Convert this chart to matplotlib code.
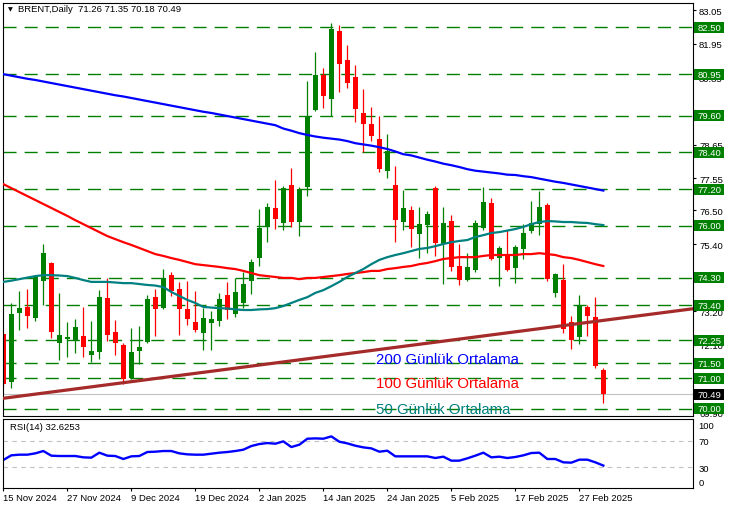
import matplotlib
matplotlib.use("Agg")
import matplotlib.pyplot as plt
from matplotlib.patches import Rectangle
import numpy as np
import pandas as pd

plt.rcParams['font.family'] = ['Liberation Sans', 'DejaVu Sans']

# ---------------- data ----------------
dates = pd.bdate_range("2024-11-15", "2025-03-04")
dates = dates[~dates.isin(pd.to_datetime(["2024-12-25", "2025-01-01"]))]

opens = [72.45, 70.88, 73.14, 73.34, 72.98, 74.19, 74.78, 72.16, 72.29, 72.26,
         72.39, 71.77, 71.87, 73.63, 72.52, 72.09, 71.01, 71.90, 72.19, 73.67,
         73.30, 74.38, 73.93, 73.27, 72.85, 72.49, 72.81, 72.88, 73.73, 73.11,
         73.47, 74.19, 74.94, 75.96, 76.58, 76.09, 77.33, 76.12, 77.26, 79.78,
         80.93, 80.14, 82.37, 81.42, 80.86, 79.69, 79.33, 78.84, 77.79, 77.33,
         76.12, 76.51, 75.73, 76.02, 77.23, 75.40, 76.15, 74.68, 74.22, 74.55,
         75.92, 76.74, 74.94, 75.04, 74.61, 75.24, 75.82, 76.06, 76.68, 73.80,
         74.22, 72.85, 72.36, 73.34, 73.01, 71.26]
highs = [72.50, 73.47, 73.86, 73.93, 74.38, 75.40, 74.81, 73.80, 72.85, 72.94,
         73.34, 72.88, 73.89, 74.29, 72.91, 72.15, 72.65, 72.72, 73.73, 73.93,
         74.58, 74.48, 74.16, 74.19, 73.86, 73.30, 73.21, 73.80, 74.16, 74.29,
         74.48, 74.91, 76.54, 76.74, 77.49, 77.30, 77.89, 77.26, 80.73, 81.68,
         81.16, 82.63, 82.57, 81.91, 81.26, 80.47, 79.88, 79.59, 79.00, 77.95,
         77.17, 76.64, 76.61, 76.48, 77.30, 76.61, 76.35, 75.40, 75.10, 76.19,
         77.26, 76.90, 75.33, 75.86, 75.37, 76.06, 76.81, 77.13, 76.74, 74.45,
         74.74, 73.05, 73.73, 73.40, 73.67, 71.35]
lows = [70.75, 70.69, 72.59, 72.65, 72.88, 73.40, 72.32, 71.60, 71.70, 71.83,
        71.70, 71.54, 71.64, 72.23, 71.77, 70.82, 70.98, 71.47, 72.16, 72.39,
        73.27, 73.70, 72.42, 72.75, 72.52, 71.93, 71.93, 72.72, 72.94, 73.01,
        73.30, 73.76, 74.68, 75.46, 75.89, 75.86, 75.96, 75.66, 76.97, 79.75,
        79.85, 79.59, 80.37, 80.50, 79.39, 78.41, 78.77, 77.76, 77.56, 75.46,
        75.86, 75.30, 74.94, 75.10, 75.01, 74.09, 74.52, 74.06, 74.19, 74.48,
        75.86, 74.88, 74.03, 74.52, 74.12, 74.91, 75.76, 75.69, 74.19, 73.67,
        72.49, 71.95, 72.13, 72.40, 71.35, 70.18]
closes = [70.82, 73.11, 73.30, 73.04, 74.32, 75.10, 72.52, 72.42, 72.36, 72.68,
          72.03, 71.90, 73.67, 72.42, 72.16, 70.98, 71.87, 72.03, 73.60, 73.27,
          74.29, 73.86, 73.27, 72.94, 72.59, 72.98, 72.94, 73.60, 73.24, 73.83,
          74.09, 74.81, 75.92, 76.61, 76.22, 77.23, 76.12, 77.20, 79.59, 80.93,
          80.24, 82.43, 81.29, 80.67, 79.82, 79.33, 78.93, 77.85, 78.44, 76.19,
          76.58, 75.89, 76.06, 76.38, 75.43, 76.09, 74.65, 74.22, 74.65, 76.09,
          76.77, 74.91, 75.27, 74.55, 75.30, 75.76, 76.09, 76.61, 74.25, 74.42,
          72.62, 72.25, 73.40, 73.04, 71.41, 70.49]

ma200 = [80.96, 80.91, 80.86, 80.81, 80.77, 80.72, 80.67, 80.62, 80.57, 80.52,
         80.47, 80.42, 80.37, 80.32, 80.27, 80.23, 80.18, 80.13, 80.08, 80.03,
         79.98, 79.93, 79.88, 79.83, 79.78, 79.73, 79.69, 79.64, 79.59, 79.54,
         79.49, 79.44, 79.39, 79.34, 79.29, 79.18, 79.11, 79.03, 78.97, 78.92,
         78.88, 78.85, 78.82, 78.77, 78.70, 78.66, 78.62, 78.57, 78.51, 78.43,
         78.34, 78.30, 78.23, 78.16, 78.10, 78.03, 77.98, 77.92, 77.85, 77.80,
         77.77, 77.74, 77.71, 77.67, 77.66, 77.62, 77.59, 77.54, 77.49, 77.44,
         77.40, 77.35, 77.30, 77.25, 77.20, 77.15]
ma100 = [77.36, 77.23, 77.10, 76.97, 76.84, 76.71, 76.58, 76.45, 76.32, 76.18,
         76.05, 75.92, 75.79, 75.66, 75.56, 75.46, 75.37, 75.27, 75.17, 75.07,
         75.01, 74.94, 74.88, 74.81, 74.74, 74.71, 74.68, 74.65, 74.61, 74.58,
         74.52, 74.45, 74.38, 74.35, 74.32, 74.29, 74.29, 74.25, 74.29, 74.29,
         74.32, 74.35, 74.38, 74.42, 74.45, 74.48, 74.52, 74.52, 74.58, 74.61,
         74.65, 74.68, 74.74, 74.78, 74.84, 74.91, 74.94, 74.97, 74.97, 74.97,
         75.01, 75.04, 75.04, 75.04, 75.04, 75.07, 75.07, 75.10, 75.07, 75.04,
         74.97, 74.94, 74.88, 74.81, 74.74, 74.68]
ma50 = [74.16, 74.20, 74.25, 74.30, 74.35, 74.38, 74.38, 74.37, 74.35, 74.29,
        74.22, 74.16, 74.16, 74.16, 74.14, 74.12, 74.12, 74.09, 74.06, 74.04,
        73.99, 73.83, 73.70, 73.57, 73.47, 73.34, 73.32, 73.30, 73.29, 73.26,
        73.24, 73.24, 73.26, 73.27, 73.30, 73.37, 73.47, 73.57, 73.66, 73.80,
        73.89, 74.02, 74.16, 74.32, 74.45, 74.58, 74.74, 74.88, 74.97, 75.04,
        75.10, 75.17, 75.24, 75.27, 75.33, 75.40, 75.46, 75.50, 75.53, 75.63,
        75.69, 75.76, 75.79, 75.84, 75.89, 75.96, 76.05, 76.12, 76.15, 76.14,
        76.12, 76.12, 76.10, 76.09, 76.05, 76.02]
rsi = [41, 48, 49, 49, 51, 54.5, 47.5, 47, 47, 47,
       45, 44.5, 52, 47.5, 47, 42.5, 46.5, 47, 53, 53.5,
       54.5, 54.5, 51, 49.5, 49, 49, 50.5, 52, 53, 54.5,
       56.5, 62, 65, 66.5, 65.5, 69, 60.5, 64, 73, 73.5,
       73, 76.5, 68.5, 66, 62.5, 60, 58.5, 53.5, 55, 46.5,
       46.5, 46.5, 46.5, 46.5, 44, 46, 40, 40, 43.5, 47.5,
       52, 45, 46, 44, 45.5, 48, 51.5, 52, 42.5, 42.5,
       37.5, 37, 41.5, 41.5, 37.5, 32.6253]

levels = [82.50, 80.95, 79.60, 78.40, 77.20, 76.00, 74.30, 73.40, 72.25, 71.50, 71.00, 70.00]
price_ticks = [83.05, 81.95, 80.85, 79.75, 78.65, 77.55, 76.50, 75.40, 74.30, 73.20, 72.10, 71.00, 69.90]
trend_anchor_bars = [0, 75]
trend_anchor_prices = [70.35, 72.90]
xtick_dates = ["2024-11-15", "2024-11-27", "2024-12-09", "2024-12-19", "2025-01-02",
               "2025-01-14", "2025-01-24", "2025-02-05", "2025-02-17", "2025-02-27"]
xtick_labels = ["15 Nov 2024", "27 Nov 2024", "9 Dec 2024", "19 Dec 2024", "2 Jan 2025",
                "14 Jan 2025", "24 Jan 2025", "5 Feb 2025", "17 Feb 2025", "27 Feb 2025"]
legend_texts = ["200 Günlük Ortalama", "100 Günlük Ortalama", "50 Günlük Ortalama"]
legend_colors = ["#0000ff", "#ff0000", "#008080"]
legend_bar = 46.6
legend_prices = [71.50, 70.71, 69.87]

# ---------------- layout ----------------
W, H = 732, 510
fig = plt.figure(figsize=(W / 100, H / 100), dpi=100)
fig.patch.set_facecolor("white")
AXW = 690
ax = fig.add_axes([3 / W, 1 - 417 / H, AXW / W, 413 / H])
ax2 = fig.add_axes([3 / W, 1 - 489 / H, AXW / W, 69.5 / H])

x = np.arange(len(opens))
for a in (ax, ax2):
    a.set_xlim(-0.04, 86.21)
    for s in a.spines.values():
        s.set_color("black")
        s.set_linewidth(0.8)
ax.set_ylim(69.77, 83.29)
ax2.set_ylim(-1.1, 103.4)
px_per_price = 413 / (83.29 - 69.77)

GREEN = "#008000"
RED = "#ff0000"
for lv in levels:
    ax.axhline(lv, color=GREEN, lw=1.0, dashes=(9.4, 5.8), zorder=1)
ax.axhline(closes[-1], color="#c0c0c0", lw=0.8, zorder=1)

# candles
o = np.array(opens); c = np.array(closes); h = np.array(highs); l = np.array(lows)
up = c >= o
cols = np.where(up, GREEN, RED)
ax.vlines(x, l, h, colors=cols, lw=0.9, zorder=2)
body_b = np.minimum(o, c)
body_h = np.maximum(np.abs(c - o), 0.03)
ax.bar(x, body_h, bottom=body_b, width=0.64, color=cols, linewidth=0, zorder=2)

# moving averages
ax.plot(x, ma200, color="#0000ff", lw=1.6, zorder=3)
ax.plot(x, ma100, color="#ff0000", lw=1.6, zorder=3)
ax.plot(x, ma50, color="#008080", lw=1.6, zorder=3)

# trend line
ax.axline((trend_anchor_bars[0], trend_anchor_prices[0]),
          (trend_anchor_bars[1], trend_anchor_prices[1]),
          color="#a52a2a", lw=2.3, zorder=4)

for t, col, pr in zip(legend_texts, legend_colors, legend_prices):
    ax.text(legend_bar, pr, t, color=col, fontsize=10.8, ha="left", va="baseline", zorder=6)

# y ticks main
ax.yaxis.tick_right()
ax.set_yticks(price_ticks)
ax.set_yticklabels([f"{v:.2f}" for v in price_ticks])
ax.tick_params(axis="y", length=2.4, width=0.8, pad=2, labelsize=6.8, colors="black")
ax.set_xticks([])

yt = ax.get_yaxis_transform()
box_h = 11 / px_per_price


def price_box(val, fc):
    ax.add_patch(Rectangle((1 + 1 / AXW, val - box_h / 2), 30 / AXW, box_h, transform=yt,
                           fc=fc, ec="none", zorder=9, clip_on=False))
    ax.text(1 + 16 / AXW, val, f"{val:.2f}", transform=yt, ha="center", va="center",
            color="white", fontsize=6.8, zorder=10, clip_on=False)


for lv in levels:
    price_box(lv, GREEN)
price_box(closes[-1], "black")

# RSI
ax2.axhline(70, color="#c0c0c0", lw=0.8, dashes=(4, 4))
ax2.axhline(30, color="#c0c0c0", lw=0.8, dashes=(4, 4))
ax2.plot(x, rsi, color="#0000ff", lw=1.7)
ax2.yaxis.tick_right()
ax2.set_yticks([0, 30, 70, 100])
ax2.set_yticklabels(["0", "30", "70", "100"])
ax2.tick_params(axis="y", length=0, pad=4, labelsize=6.8)
for lab in ax2.get_yticklabels():
    if lab.get_text() == "100":
        lab.set_va("top")
    elif lab.get_text() == "0":
        lab.set_va("bottom")
ax2.text(7 / AXW, 1 - 7.5 / 69.5, f"RSI(14) {rsi[-1]:.4f}", transform=ax2.transAxes,
         ha="left", va="center", fontsize=6.8)

pos = [int(np.where(dates == pd.Timestamp(d))[0][0]) for d in xtick_dates]
ax2.set_xticks(pos)
ax2.set_xticklabels(xtick_labels, ha="left")
ax2.tick_params(axis="x", length=2.4, width=0.8, pad=1.5, labelsize=6.8)

fig.text(18 / W, 1 - 10 / H,
         f"BRENT,Daily  {opens[-1]:.2f} {highs[-1]:.2f} {lows[-1]:.2f} {closes[-1]:.2f}",
         ha="left", va="center", fontsize=6.8)
fig.text(10 / W, 1 - 10 / H, "\u25bc", ha="center", va="center", fontsize=4.5,
         family="DejaVu Sans")

fig.savefig("out.png", dpi=100, facecolor="white")
